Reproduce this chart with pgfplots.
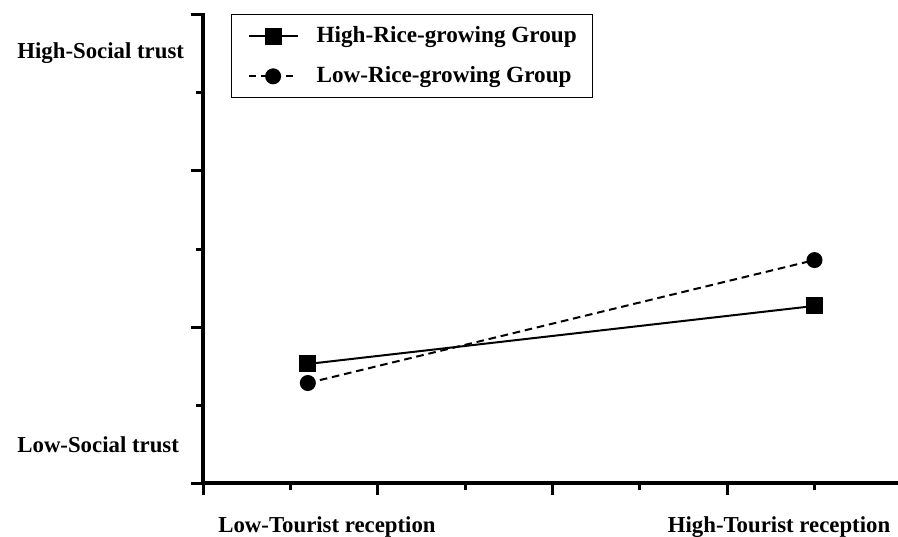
\documentclass[border=0pt]{standalone}
\usepackage{pgfplots}
\pgfplotsset{compat=1.18}
\usepackage{fontspec}
\setmainfont{Liberation Serif}
\begin{document}
\begin{tikzpicture}[x=1pt,y=1pt]
\useasboundingbox (0,0) rectangle (449,268);
\begin{axis}[
  at={(101.5pt,26.5pt)}, anchor=south west,
  scale only axis, width=347.5pt, height=234pt,
  xmin=0, xmax=3.978, ymin=0, ymax=3,
  axis x line*=bottom, axis y line*=left,
  axis line style={-, line width=2pt, line cap=rect},
  xtick={0,1,2,3}, minor xtick={0.5,1.5,2.5,3.5},
  ytick={0,1,2,3}, minor ytick={0.5,1.5,2.5},
  xticklabels={}, yticklabels={},
  tick align=outside, major tick length=6pt, minor tick length=3.5pt,
  every tick/.style={black, line width=1.5pt},
  clip=false,
  legend cell align=left,
  legend style={at={(rel axis cs:0.0403,1.002)}, anchor=north west,
    draw=black, line width=0.6pt, font=\bfseries\fontsize{11.6}{13}\selectfont,
    inner xsep=6pt, inner ysep=4pt, row sep=6.5pt,
    /tikz/every odd column/.append style={column sep=7pt},
    /tikz/every even column/.append style={column sep=0pt}},
  legend image code/.code={\path (-2pt,0pt); \draw[mark repeat=2,mark phase=2] plot coordinates {(0pt,0pt) (12.25pt,0pt) (24.5pt,0pt)};},
]
\addplot[black, line width=1pt, mark=square*, mark size=3.75pt, mark options={solid}]
  coordinates {(0.6,0.763) (3.5,1.135)};
\addlegendentry{High-Rice-growing Group}
\addplot[black, line width=1pt, dash pattern=on 3.8pt off 2.4pt, mark=*, mark size=3.5pt, mark options={solid}]
  coordinates {(0.6,0.641) (3.5,1.429)};
\addlegendentry{Low-Rice-growing Group}
\end{axis}
\begin{scope}[font=\bfseries\fontsize{11.4}{13}\selectfont]
\node[anchor=west, inner sep=0pt] at (8.5,241.5) {High-Social trust};
\node[anchor=west, inner sep=0pt] at (8.5,45.5) {Low-Social trust};
\node[anchor=base, inner sep=0pt] at (163.5,2) {Low-Tourist reception};
\node[anchor=base, inner sep=0pt] at (389.5,2) {High-Tourist reception};
\end{scope}
\end{tikzpicture}
\end{document}
